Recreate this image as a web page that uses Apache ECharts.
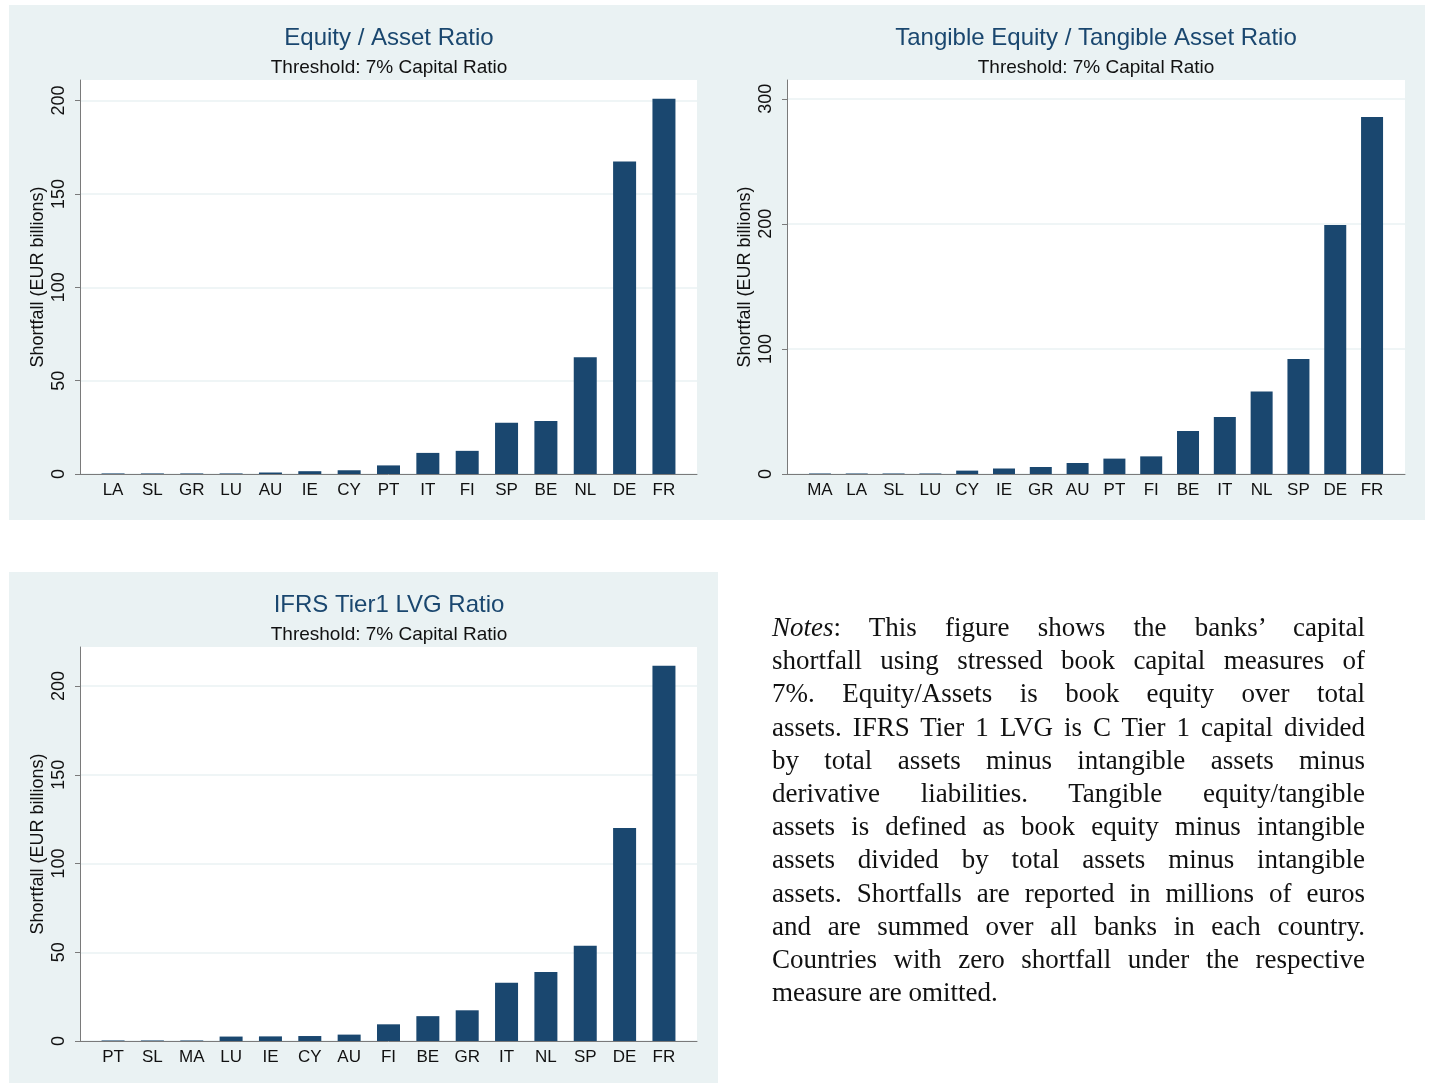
<!DOCTYPE html>
<html>
<head>
<meta charset="utf-8">
<script src="https://cdn.jsdelivr.net/npm/echarts@6/dist/echarts.min.js"></script>
<style>
  body { margin: 0; background: #fff; }
  #chart { position: absolute; left: 0; top: 0; width: 1430px; height: 1083px; }
  #notes {
    position: absolute; left: 772px; top: 611px; width: 593px;
    font-family: "Liberation Serif", "DejaVu Serif", serif;
    font-size: 27px; line-height: 33.2px; color: #111;
  }
  #notes .ln { text-align: justify; text-align-last: justify; white-space: nowrap; }
  #notes .last { text-align: left; text-align-last: left; }
</style>
</head>
<body>
<div id="chart"></div>
<div id="notes">
  <div class="ln"><i>Notes</i>: This figure shows the banks’ capital</div>
  <div class="ln">shortfall using stressed book capital measures of</div>
  <div class="ln">7%. Equity/Assets is book equity over total</div>
  <div class="ln">assets. IFRS Tier 1 LVG is C Tier 1 capital divided</div>
  <div class="ln">by total assets minus intangible assets minus</div>
  <div class="ln">derivative liabilities. Tangible equity/tangible</div>
  <div class="ln">assets is defined as book equity minus intangible</div>
  <div class="ln">assets divided by total assets minus intangible</div>
  <div class="ln">assets. Shortfalls are reported in millions of euros</div>
  <div class="ln">and are summed over all banks in each country.</div>
  <div class="ln">Countries with zero shortfall under the respective</div>
  <div class="ln last">measure are omitted.</div>
</div>
<script>
// data (EUR billions)
const eqCats = ["LA", "SL", "GR", "LU", "AU", "IE", "CY", "PT", "IT", "FI", "SP", "BE", "NL", "DE", "FR"];
const eqVals = [0.3, 0.3, 0.3, 0.3, 0.8, 1.5, 2.0, 4.6, 11.3, 12.4, 27.5, 28.4, 62.5, 167.4, 201.0];

const tanCats = ["MA", "LA", "SL", "LU", "CY", "IE", "GR", "AU", "PT", "FI", "BE", "IT", "NL", "SP", "DE", "FR"];
const tanVals = [0.4, 0.4, 0.4, 0.4, 2.7, 4.4, 5.6, 8.8, 12.3, 14.1, 34.4, 45.6, 66.0, 92.0, 199.0, 285.4];

const ifrsCats = ["PT", "SL", "MA", "LU", "IE", "CY", "AU", "FI", "BE", "GR", "IT", "NL", "SP", "DE", "FR"];
const ifrsVals = [0.3, 0.3, 0.3, 2.5, 2.6, 2.8, 3.6, 9.4, 14.0, 17.3, 32.8, 38.9, 53.6, 120.0, 211.5];

const eqTicks = [0, 50, 100, 150, 200];
const tanTicks = [0, 100, 200, 300];
const ifrsTicks = [0, 50, 100, 150, 200];

const titles = ["Equity / Asset Ratio", "Tangible Equity / Tangible Asset Ratio", "IFRS Tier1 LVG Ratio"];
const subtitle = "Threshold: 7% Capital Ratio";

const barColor = "#1a476f";
const panelBg = "#EAF2F3";
const axisColor = "#7a7a7a";
const font = "Liberation Sans, Arial, sans-serif";

const grids = [
  { left: 80, top: 80, width: 617, height: 394 },
  { left: 787, top: 80, width: 618, height: 394 },
  { left: 80, top: 647, width: 617, height: 394 },
];

const panels = [
  { cats: eqCats, vals: eqVals, ticks: eqTicks, max: 211, pad: 0.84, barWidth: 23 },
  { cats: tanCats, vals: tanVals, ticks: tanTicks, max: 315, pad: 0.895, barWidth: 22 },
  { cats: ifrsCats, vals: ifrsVals, ticks: ifrsTicks, max: 222, pad: 0.84, barWidth: 23 },
];

const chart = echarts.init(document.getElementById("chart"), null, { renderer: "canvas" });

const xAxis = panels.map((p, i) => ({
  gridIndex: i,
  type: "value",
  min: -p.pad,
  max: p.cats.length - 1 + p.pad,
  axisLine: { show: true, onZero: false, lineStyle: { color: axisColor, width: 1 } },
  axisTick: { show: false },
  splitLine: { show: false },
  axisLabel: {
    customValues: p.cats.map((c, k) => k),
    formatter: (v) => p.cats[Math.round(v)] || "",
    color: "#111",
    fontSize: 17,
    fontFamily: font,
    margin: 8,
  },
}));

const yAxis = panels.map((p, i) => ({
  gridIndex: i,
  type: "value",
  min: 0,
  max: p.max,
  name: "Shortfall (EUR billions)",
  nameLocation: "middle",
  nameGap: 33,
  nameRotate: 90,
  nameTextStyle: { color: "#111", fontSize: 18, fontFamily: font },
  axisLine: { show: true, onZero: false, lineStyle: { color: axisColor, width: 1 } },
  axisTick: { show: true, length: 5, customValues: p.ticks, lineStyle: { color: axisColor } },
  axisLabel: {
    customValues: p.ticks,
    rotate: 90,
    color: "#111",
    fontSize: 18,
    fontFamily: font,
    margin: 12,
  },
  splitLine: { show: true, lineStyle: { color: panelBg, width: 1.5 } },
}));

const series = panels.map((p, i) => ({
  type: "bar",
  xAxisIndex: i,
  yAxisIndex: i,
  barWidth: p.barWidth,
  itemStyle: { color: barColor },
  data: p.vals.map((v, k) => [k, v]),
  animation: false,
}));

const graphic = [
  { type: "rect", z: -10, shape: { x: 9, y: 5, width: 1416, height: 515 }, style: { fill: panelBg } },
  { type: "rect", z: -10, shape: { x: 9, y: 572, width: 709, height: 520 }, style: { fill: panelBg } },
];
const titlePos = [
  { x: 389, y: 38 },
  { x: 1096, y: 38 },
  { x: 389, y: 605 },
];
titlePos.forEach((t, i) => {
  graphic.push({
    type: "text", x: t.x, y: t.y,
    style: { text: titles[i], fill: barColor, font: "24px " + font, align: "center", verticalAlign: "middle" },
  });
  graphic.push({
    type: "text", x: t.x, y: t.y + 30,
    style: { text: subtitle, fill: "#111", font: "19px " + font, align: "center", verticalAlign: "middle" },
  });
});

chart.setOption({
  backgroundColor: "#fff",
  animation: false,
  grid: grids.map((g) => Object.assign({ show: true, backgroundColor: "#fff", borderWidth: 0, containLabel: false }, g)),
  xAxis,
  yAxis,
  series,
  graphic,
});
</script>
</body>
</html>
